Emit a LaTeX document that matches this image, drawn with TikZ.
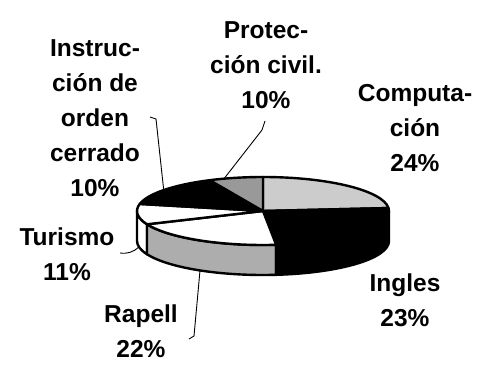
\documentclass[tikz,border=0pt]{standalone}
\usepackage{fontspec}
\setmainfont{Liberation Sans}
\usetikzlibrary{positioning, calc}
\definecolor{lightstip}{gray}{0.80}
\definecolor{darkstip}{gray}{0.60}
\definecolor{midstip}{gray}{0.68}
\tikzstyle{lbl}=[%
      align=center, inner sep=0pt, font=\fontsize{24.5}{35}\selectfont\bfseries
]
\tikzstyle{slice}=[%
      draw=black, line width=2.4pt, line join=round
]
\tikzstyle{leader}=[%
      draw=black, line width=0.9pt
]
\tikzstyle{rim}=[%
      x radius=126, y radius=34
]

\begin{document}
\begin{tikzpicture}[x=1pt, y=1pt]
    \useasboundingbox (0,0) rectangle (481,364);
    \coordinate (c) at (263,153);
    \coordinate (b) at (263,123);

    % side walls
    \filldraw[slice, fill=white] ($(c)+(-180:126 and 34)$) arc[rim, start angle=-180, end angle=-157]
          -- ++(0,-30) arc[rim, start angle=-157, end angle=-180] -- cycle;
    \filldraw[slice, fill=midstip] ($(c)+(-157:126 and 34)$) arc[rim, start angle=-157, end angle=-84]
          -- ++(0,-30) arc[rim, start angle=-84, end angle=-157] -- cycle;
    \filldraw[slice, fill=black] ($(c)+(-84:126 and 34)$) arc[rim, start angle=-84, end angle=0]
          -- ++(0,-30) arc[rim, start angle=0, end angle=-84] -- cycle;

    % top faces
    \filldraw[slice, fill=lightstip] (c) -- ($(c)+(5:126 and 34)$) arc[rim, start angle=5, end angle=90] -- cycle;
    \filldraw[slice, fill=black] (c) -- ($(c)+(-84:126 and 34)$) arc[rim, start angle=-84, end angle=5] -- cycle;
    \filldraw[slice, fill=white] (c) -- ($(c)+(-157:126 and 34)$) arc[rim, start angle=-157, end angle=-84] -- cycle;
    \filldraw[slice, fill=white] (c) -- ($(c)+(-192:126 and 34)$) arc[rim, start angle=-192, end angle=-157] -- cycle;
    \filldraw[slice, fill=black] (c) -- ($(c)+(-245:126 and 34)$) arc[rim, start angle=-245, end angle=-192] -- cycle;
    \filldraw[slice, fill=darkstip] (c) -- ($(c)+(-270:126 and 34)$) arc[rim, start angle=-270, end angle=-245] -- cycle;

    % labels
    \node[lbl] (protec)  at (266,299) {Protec-\\ción civil.\\10\%};
    \node[lbl] (instr)   at (95,246)  {Instruc-\\ción de\\orden\\cerrado\\10\%};
    \node[lbl] (compu)   at (415,236) {Computa-\\ción\\24\%};
    \node[lbl] (ingles)  at (405,64)  {Ingles\\23\%};
    \node[lbl] (rapell)  at (141,33)  {Rapell\\22\%};
    \node[lbl] (turismo) at (67,110)  {Turismo\\11\%};

    % leader lines
    \coordinate (pP)  at ($(c)+(108:126 and 34)$);
    \coordinate (kP1) at (262,234);
    \coordinate (kP2) at (265,243);
    \coordinate (pI)  at ($(c)+(142:126 and 34)$);
    \coordinate (kI1) at (156,245);
    \coordinate (kI2) at (150,247);
    \coordinate (pT)  at ($(b)+(-170:126 and 34)$);
    \coordinate (kT)  at (120,111);
    \coordinate (pR)  at ($(b)+(-120:126 and 34)$);
    \coordinate (kR1) at (194,28);
    \coordinate (kR2) at (189,25);

    \draw[leader] (pP) -- (kP1) -- (kP2);
    \draw[leader] (pI) -- (kI1) -- (kI2);
    \draw[leader] (kT) to[bend right=25] (pT);
    \draw[leader] (pR) -- (kR1) -- (kR2);
\end{tikzpicture}
\end{document}
